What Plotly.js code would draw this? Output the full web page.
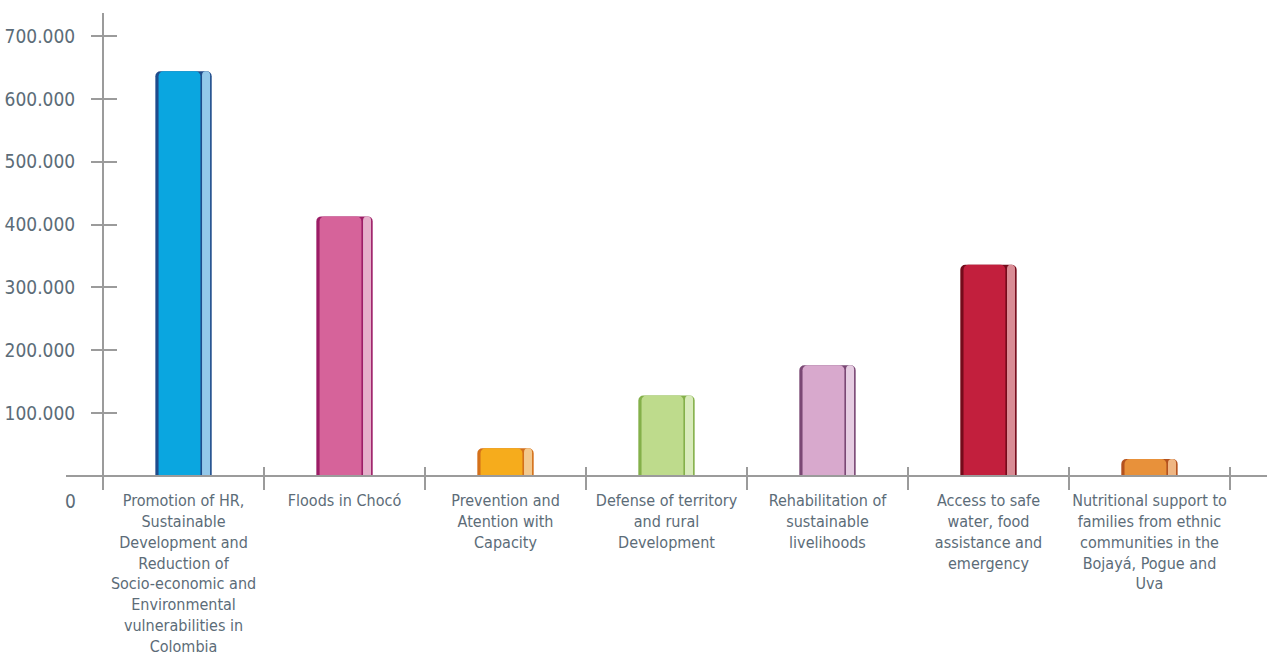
<!DOCTYPE html>
<html>
<head>
<meta charset="utf-8">
<script src="https://cdn.plot.ly/plotly-3.0.1.min.js"></script>
<style>html,body{margin:0;padding:0;background:#fff;}#chart{width:1267px;height:657px;}</style>
</head>
<body>
<div id="chart"></div>
<script>
// ---- data ----
const categories = [
  "Promotion of HR, Sustainable Development and Reduction of Socio-economic and Environmental vulnerabilities in Colombia",
  "Floods in Chocó",
  "Prevention and Atention with Capacity",
  "Defense of territory and rural Development",
  "Rehabilitation of sustainable livelihoods",
  "Access to safe water, food assistance and emergency",
  "Nutritional support to families from ethnic communities in the Bojayá, Pogue and Uva"
];
const tickLabels = [
  "Promotion of HR,<br>Sustainable<br>Development and<br>Reduction of<br>Socio-economic and<br>Environmental<br>vulnerabilities in<br>Colombia",
  "Floods in Chocó",
  "Prevention and<br>Atention with<br>Capacity",
  "Defense of territory<br>and rural<br>Development",
  "Rehabilitation of<br>sustainable<br>livelihoods",
  "Access to safe<br>water, food<br>assistance and<br>emergency",
  "Nutritional support to<br>families from ethnic<br>communities in the<br>Bojayá, Pogue and<br>Uva"
];
const amounts = [644000, 413000, 44000, 128000, 176000, 336000, 27000];
const minorAmounts = [0, 1500, 0, 0, 0, 0, 0];
const yTickValues = [100000, 200000, 300000, 400000, 500000, 600000, 700000];
const yTickLabels = ["100.000", "200.000", "300.000", "400.000", "500.000", "600.000", "700.000"];

// ---- styles ----
const edgeColors  = ['#1f4c8c', '#9c1d66', '#d4701a', '#84b04a', '#7a4874', '#740b1b', '#b4521e'];
const mainColors  = ['#0aa6e0', '#d6639a', '#f6ac1c', '#bedb8c', '#d8a9cd', '#c21f3d', '#e8913a'];
const lightColors = ['#93c8ea', '#e6afca', '#f3c98e', '#d9ebbb', '#e6cde2', '#d98c95', '#efb683'];
const font = '"DejaVu Sans Condensed", "DejaVu Sans", sans-serif';
const textColor = '#5c6c78';
const axisColor = '#9b9b9b';

const yMin = -19100, yMax = 736600;

const traces = [
  {type: 'bar', x: tickLabels, y: amounts, width: 0.35, offset: -0.175,
   marker: {color: edgeColors, line: {width: 0}}, hoverinfo: 'skip'},
  {type: 'bar', x: tickLabels, y: amounts, width: 0.26, offset: -0.155,
   marker: {color: mainColors, line: {width: 0}}, hoverinfo: 'skip'},
  {type: 'bar', x: tickLabels, y: amounts, width: 0.05, offset: 0.115,
   marker: {color: lightColors, line: {width: 0}}, hoverinfo: 'skip'},
  {type: 'bar', x: tickLabels, y: minorAmounts, width: 0.1, offset: 0.34,
   xaxis: 'x2', yaxis: 'y2',
   marker: {color: '#e4de78', line: {width: 0}}, hoverinfo: 'skip'}
];

const xPos = (0 - yMin) / (yMax - yMin);
const yPos = 37 / 1201;

const layout = {
  width: 1267, height: 657,
  margin: {l: 66, r: 0, t: 13, b: 169, pad: 0},
  paper_bgcolor: '#fff', plot_bgcolor: 'rgba(0,0,0,0)',
  showlegend: false,
  barmode: 'overlay',
  barcornerradius: 5,
  font: {family: font, color: textColor},
  xaxis: {
    type: 'category', domain: [0, 1], range: [-0.73, 6.73],
    anchor: 'free', position: xPos,
    showline: true, linecolor: axisColor, linewidth: 2,
    ticks: 'outside', ticklen: 13, tickwidth: 2, tickcolor: axisColor,
    tickson: 'boundaries', tickangle: 0,
    showgrid: false, zeroline: false,
    tickfont: {family: font, size: 16, color: textColor, stretch: 'condensed'},
    ticklabelstandoff: 10
  },
  xaxis2: {
    type: 'category', overlaying: 'x', range: [-0.73, 6.73],
    anchor: 'free', position: xPos,
    showline: false, ticks: 'inside', ticklen: 9, tickwidth: 2, tickcolor: axisColor,
    tickson: 'boundaries', showticklabels: false, showgrid: false, zeroline: false
  },
  yaxis: {
    range: [yMin, yMax], anchor: 'free', position: yPos,
    showline: true, linecolor: axisColor, linewidth: 2,
    ticks: 'outside', ticklen: 11, tickwidth: 2, tickcolor: axisColor,
    tickmode: 'array', tickvals: yTickValues, ticktext: yTickLabels,
    tickfont: {family: font, size: 19, color: textColor, stretch: 'condensed'},
    showgrid: false, zeroline: false, ticklabelstandoff: 12
  },
  yaxis2: {
    range: [yMin, yMax], overlaying: 'y', anchor: 'free', position: yPos, side: 'left',
    showline: false, ticks: 'inside', ticklen: 13, tickwidth: 2, tickcolor: axisColor,
    tickmode: 'array', tickvals: yTickValues, showticklabels: false,
    showgrid: false, zeroline: false
  },
  annotations: [{
    text: '0', xref: 'paper', yref: 'y', x: 4 / 1201, y: 0, yshift: -25,
    showarrow: false, xanchor: 'center', yanchor: 'middle',
    font: {family: font, size: 19, color: textColor, stretch: 'condensed'}
  }]
};

Plotly.newPlot('chart', traces, layout, {displayModeBar: false, staticPlot: true});
</script>
</body>
</html>
